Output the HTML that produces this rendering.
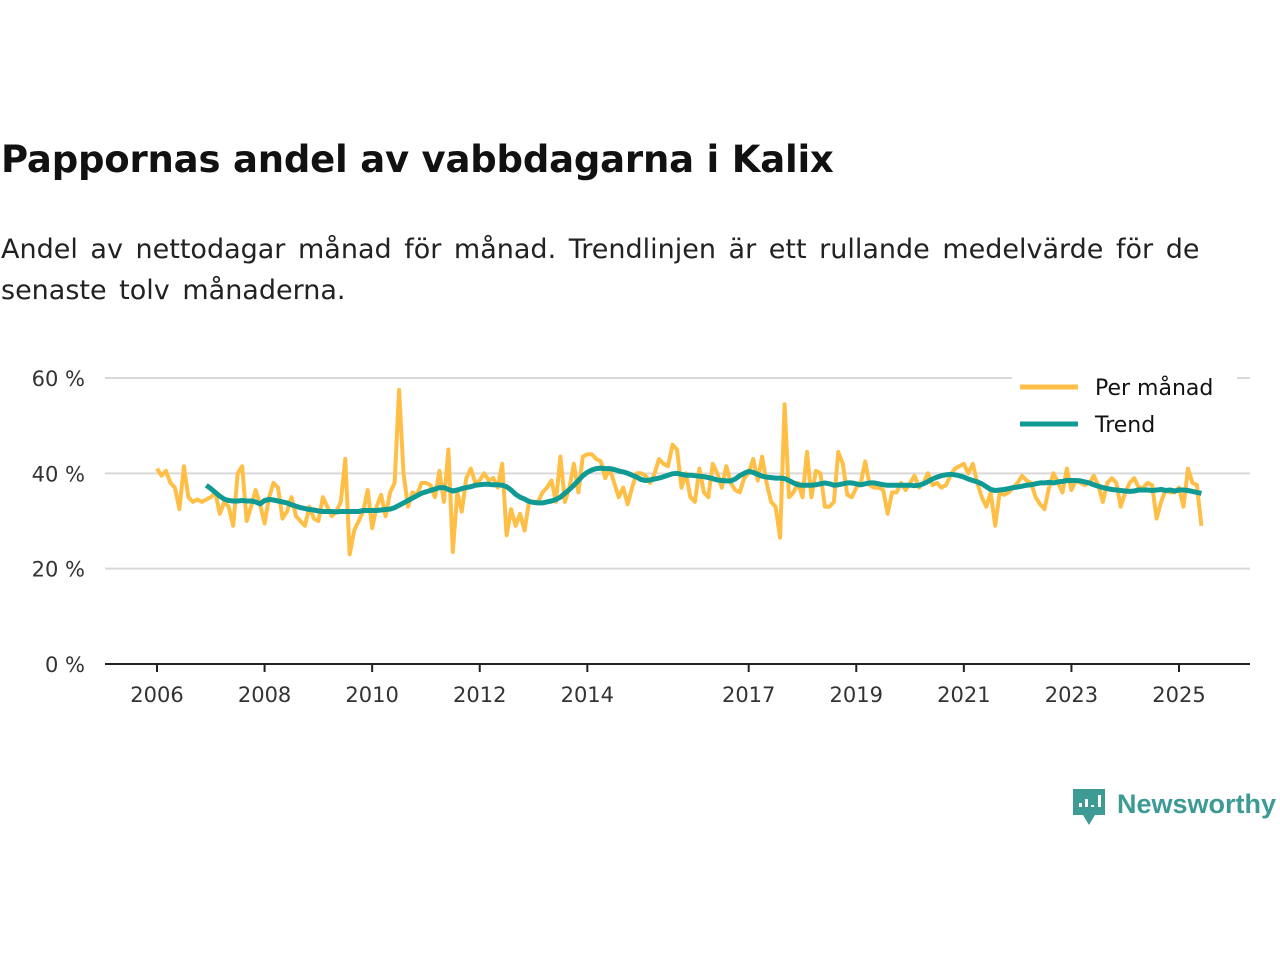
<!DOCTYPE html>
<html><head><meta charset="utf-8"><style>
body{margin:0;background:#fff;width:1280px;height:960px;overflow:hidden;font-family:"DejaVu Sans","Liberation Sans",sans-serif;}
#title{position:absolute;left:1px;top:138px;font-size:37px;font-weight:bold;color:#111;margin:0;letter-spacing:-0.2px}
#sub{position:absolute;left:1px;top:229px;font-size:27px;color:#222;line-height:41px;width:1235px;margin:0;word-spacing:4px}
svg{position:absolute;left:0;top:0}
</style></head><body>
<h1 id="title">Pappornas andel av vabbdagarna i Kalix</h1>
<p id="sub">Andel av nettodagar månad för månad. Trendlinjen är ett rullande medelvärde för de senaste tolv månaderna.</p>
<svg id="chart" width="1280" height="960"></svg>
<script>
const startYear = 2006;
const yTicks = [0, 20, 40, 60];
const yTickLabels = ["0 %", "20 %", "40 %", "60 %"];
const xTickYears = [2006, 2008, 2010, 2012, 2014, 2017, 2019, 2021, 2023, 2025];
const monthly = [
41,39.5,40.5,38,37,32.5,41.5,35,34,34.5,34,34.5,
35,36,31.5,34,33,29,40,41.5,30,33,36.5,33.5,
29.5,35,38,37,30.5,32,35,31,30,29,33,30.5,
30,35,33,31,32,34,43,23,28,30,32,36.5,
28.5,33,35.5,31,36,38,57.5,40,33,36,35.5,38,
38,37.5,35,40.5,34,45,23.5,36,32,39,41,38,
38.5,40,38.5,39,37,42,27,32.5,29,31.5,28,34,
34,34,36,37,38.5,34,43.5,34,37,42,36,43.5,
44,44,43,42.5,39,41,38,35,37,33.5,37,40,
40,39.5,38,40,43,42,41.5,46,45,37,40,35,
34,41,36,35,42,40,37,41.5,38,36.5,36,39,
40,43,38.5,43.5,38,34,33,26.5,54.5,35,36,38,
35,44.5,35,40.5,40,33,33,34,44.5,42,35.5,35,
37,38,42.5,37.5,37,37,36.5,31.5,36,36,38,36.5,
38,39.5,37,38,40,37.5,38,37,37.5,39.5,41,41.5,
42,40,42,38,35,33,36,29,36,35.5,36,37,
38,39.5,38.5,38,35,33.5,32.5,37,40,38,36,41,
36.5,38.5,38,37.5,38,39.5,37.5,34,38,39,38,33,
36,38,39,37,37,38,37.5,30.5,34,36.5,36,36,
37,33,41,38,37.5,29];
const trendStart = 11;
const trend = [37.5,
36.8,36,35.2,34.6,34.3,34.2,34.2,34.3,34.2,34.2,34,33.6,
34.3,34.5,34.4,34.2,34,33.8,33.4,33.1,32.8,32.6,32.4,32.3,
32.1,32,32,32,31.9,32,32,32,32,32,32.2,32.2,
32.2,32.2,32.3,32.4,32.5,32.8,33.3,33.8,34.3,34.8,35.3,35.8,
36.1,36.4,36.7,37,37,36.6,36.3,36.5,36.8,37,37.2,37.5,
37.6,37.7,37.7,37.6,37.6,37.5,37.2,36.5,35.6,35,34.6,34.1,
33.9,33.8,33.8,34,34.2,34.5,35,35.8,36.6,37.5,38.5,39.5,
40.2,40.7,41,41.1,41,41,40.8,40.5,40.3,40,39.6,39.2,
38.7,38.5,38.6,38.8,39,39.3,39.6,39.9,40,39.8,39.6,39.6,
39.5,39.4,39.3,39.1,38.9,38.6,38.5,38.4,38.4,38.8,39.5,40,
40.4,40.2,39.8,39.4,39.2,39.1,39,39,38.9,38.5,38,37.6,
37.5,37.5,37.5,37.6,37.8,38,37.8,37.5,37.6,37.8,38,38,
37.8,37.6,37.8,38,38,37.8,37.6,37.5,37.5,37.5,37.5,37.5,
37.5,37.4,37.5,37.8,38.3,38.8,39.2,39.5,39.7,39.8,39.7,39.5,
39.2,38.8,38.5,38.2,37.8,37.2,36.6,36.4,36.5,36.6,36.8,37,
37.1,37.3,37.5,37.6,37.8,38,38,38.1,38,38.2,38.3,38.5,
38.5,38.5,38.4,38.2,38,37.6,37.3,37,36.8,36.6,36.5,36.4,
36.3,36.2,36.3,36.5,36.5,36.5,36.4,36.5,36.6,36.4,36.5,36.3,
36.5,36.5,36.4,36.2,36,35.8];

const NS="http://www.w3.org/2000/svg";
const svg=document.getElementById('chart');
const X0=157, PX_YEAR=53.79, Y0=664, PX_PCT=4.767;
const FONT='DejaVu Sans, Liberation Sans, sans-serif';
function xScale(t){return X0+(t-startYear)*PX_YEAR;}
function yScale(v){return Y0-v*PX_PCT;}
function mk(tag,attrs){const e=document.createElementNS(NS,tag);for(const k in attrs)e.setAttribute(k,attrs[k]);svg.appendChild(e);return e;}

yTicks.forEach((v,i)=>{
  if(v>0){const g=mk('line',{x1:105,x2:1250,y1:yScale(v),y2:yScale(v),stroke:'#d9d9d9','stroke-width':2});
  
  }
  const t=mk('text',{x:85,y:yScale(v)+8,'text-anchor':'end','font-size':21,fill:'#333','font-family':FONT});
  t.textContent=yTickLabels[i];
  
  
});
const ax=mk('line',{x1:105,x2:1250,y1:Y0,y2:Y0,stroke:'#222','stroke-width':2});


xTickYears.forEach(yr=>{
  const x=xScale(yr);
  const tk=mk('line',{x1:x,x2:x,y1:Y0,y2:Y0+8,stroke:'#222','stroke-width':2});
  
  
  const t=mk('text',{x:x,y:702,'text-anchor':'middle','font-size':21,fill:'#333','font-family':FONT});
  t.textContent=yr;
  
  
});
function pathFor(arr,off){return arr.map((v,i)=>(i?'L':'M')+xScale(startYear+(i+off)/12).toFixed(1)+','+yScale(v).toFixed(1)).join(' ');}
const pm=mk('path',{d:pathFor(monthly,0),fill:'none',stroke:'#ffbf47','stroke-width':4,'stroke-linejoin':'round'});


const tr=mk('path',{d:pathFor(trend,trendStart),fill:'none',stroke:'#0f9a94','stroke-width':5,'stroke-linejoin':'round'});



const lg=[['Per månad','#ffbf47',387],['Trend','#0f9a94',424]];
lg.forEach(l=>{
  const r=mk('rect',{x:1012,y:l[2]-18,width:225,height:36,fill:'#fff'});
  
  
});
lg.forEach(l=>{
  const ln=mk('line',{x1:1020,x2:1078,y1:l[2],y2:l[2],stroke:l[1],'stroke-width':5});
  
  
  const t=mk('text',{x:1095,y:l[2]+8,'font-size':22,fill:'#111','font-family':FONT});
  t.textContent=l[0];
  
  
});
const lb=mk('path',{d:'M1073,789 h32 v26 h-10 l-6,10 l-6,-10 h-10 z',fill:'#3d9a95'});


[[1079,803,4],[1085,799,8],[1091,805,2],[1098,795,12]].forEach(b=>{
  const r=mk('rect',{x:b[0],y:b[1],width:3,height:b[2],fill:'#fff'});
  
  
});
const lt=mk('text',{x:1117,y:813,'font-size':27,'font-weight':'bold',fill:'#3d9a95','font-family':'Liberation Sans, sans-serif'});
lt.textContent='Newsworthy';


</script>
</body></html>
